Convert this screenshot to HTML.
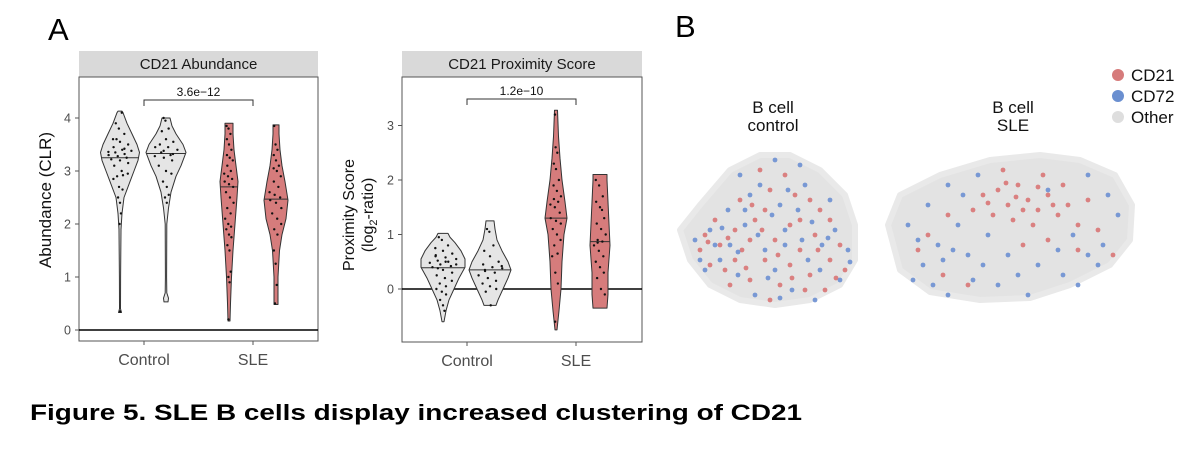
<!DOCTYPE html>
<html><head><meta charset="utf-8"><style>
html,body{margin:0;padding:0;background:#fff;}
svg{display:block;font-family:"Liberation Sans",Arial,sans-serif;}
</style></head><body>
<svg id="fig" width="1200" height="454" viewBox="0 0 1200 454" xmlns="http://www.w3.org/2000/svg">
<text x="48" y="40" font-size="31" fill="#000">A</text>
<text x="675" y="37" font-size="31" fill="#000">B</text>
<text x="30" y="420" font-size="22" font-weight="bold" textLength="772" lengthAdjust="spacingAndGlyphs" fill="#000">Figure 5. SLE B cells display increased clustering of CD21</text>
<g id="left"></g>
<g id="right"></g>
<g id="umap"></g>
</svg>
<script>
// ---- violin data ----
const groupLabels = ["Control", "SLE"];
const abundanceTicks = [0, 1, 2, 3, 4];
const proximityTicks = [0, 1, 2, 3];
const abundanceP = "3.6e\u221212";
const proximityP = "1.2e\u221210";
const L_c1_y = [0.33,0.4,1,1.9,2.2,2.5,2.8,3.0,3.2,3.35,3.5,3.7,3.9,4.1,4.13];
const L_c1_w = [1.5,0.5,0.6,1,2,4,10,14,18,19.5,17,12,7,3,2];
const L_c2_y = [0.53,0.6,0.7,1,2.0,2.3,2.6,2.9,3.1,3.35,3.5,3.7,3.85,4.0];
const L_c2_w = [2,2.5,0.8,0.6,0.8,2.5,5,10,15,20,17,10,6,4];
const L_s1_y = [0.17,0.5,1,1.5,2,2.5,2.8,3.1,3.4,3.7,3.9];
const L_s1_w = [1,1.5,2.5,4,6,8,9,7,5,4,4];
const L_s2_y = [0.48,1.0,1.5,1.8,2.1,2.45,2.8,3.1,3.4,3.7,3.87];
const L_s2_w = [2,2,3.5,6,10,12,9,6,4,3,3];
const R_c1_y = [-0.6,-0.4,-0.2,0,0.2,0.4,0.55,0.7,0.85,0.95,1.02];
const R_c1_w = [1,3,6,11,16,22,22,18,12,7,5];
const R_c2_y = [-0.3,-0.2,0,0.2,0.35,0.5,0.7,0.9,1.1,1.25];
const R_c2_w = [6,8,13,18,21,18,12,7,5,4];
const R_s1_y = [-0.75,-0.4,0,0.5,1.0,1.3,1.6,2.0,2.4,2.8,3.28];
const R_s1_w = [1,3,5,6,8,11,9,6,4,2.5,1.5];
const R_s2_y = [-0.35,-0.1,0.3,0.8,1.2,1.6,2.0,2.1];
const R_s2_w = [7,8,8,10,9,8,7,7];
const L_medians = [3.25,3.33,2.7,2.47];
const R_medians = [0.39,0.35,1.3,0.87];
const L_c1 = [3.9,3.8,3.7,3.6,3.55,3.5,3.45,3.4,3.38,3.35,3.32,3.3,3.28,3.25,3.22,3.2,3.15,3.1,3.0,2.95,2.9,2.92,2.85,2.7,2.65,2.5,2.4,2.2,2.0,0.35,4.1,3.6,3.42,3.36];
const L_c2 = [4.0,3.95,3.8,3.75,3.6,3.55,3.5,3.45,3.4,3.35,3.3,3.28,3.25,3.2,3.1,3.0,2.95,2.8,2.7,2.55,2.5,2.4,3.45,3.38,3.32];
const L_s1 = [3.85,3.8,3.7,3.6,3.5,3.4,3.3,3.25,3.2,3.1,3.0,2.95,2.9,2.85,2.8,2.75,2.7,2.6,2.5,2.4,2.3,2.2,2.1,2.0,1.95,1.9,1.8,1.75,1.6,1.5,1.1,1.0,0.9,0.2];
const L_s2 = [3.85,3.5,3.4,3.3,3.2,3.1,3.05,3.0,2.9,2.8,2.7,2.6,2.55,2.5,2.45,2.4,2.3,2.2,2.1,2.0,1.9,1.8,1.5,1.25,0.85,0.5];
const R_c1 = [0.95,0.9,0.8,0.75,0.7,0.65,0.6,0.58,0.55,0.52,0.5,0.48,0.45,0.42,0.4,0.35,0.3,0.25,0.2,0.15,0.1,0.05,0.0,-0.05,-0.1,-0.2,-0.3,-0.4,0.62,0.5,0.45,0.38];
const R_c2 = [1.1,1.05,0.8,0.7,0.6,0.5,0.45,0.4,0.38,0.35,0.3,0.25,0.2,0.15,0.1,0.05,0.0,-0.05,-0.3,0.42,0.33];
const R_s1 = [3.2,2.6,2.5,2.3,2.2,2.0,1.9,1.8,1.7,1.65,1.6,1.55,1.5,1.4,1.3,1.25,1.2,1.1,1.0,0.9,0.8,0.65,0.6,0.3,0.1,-0.6];
const R_s2 = [2.0,1.9,1.7,1.6,1.5,1.3,1.2,1.1,1.0,0.9,0.87,0.8,0.7,0.6,0.5,0.4,0.3,0.2,0.0,-0.1,0.85,1.45];
// ---- UMAP data (embedding units) ----
const ctrlOutline = [[0,80],[20,55],[50,20],[80,5],[110,5],[140,20],[165,45],[175,75],[175,110],[160,135],[130,150],[95,155],[60,150],[30,135],[10,110]];
const sleOutline = [[0,70],[12,40],[52,20],[102,5],[152,0],[192,5],[227,20],[244,50],[242,85],[222,110],[182,130],[142,143],[92,145],[42,137],[12,115]];
const ctrlCD21 = [[25,85],[40,95],[55,80],[62,100],[75,70],[85,110],[95,90],[110,75],[120,100],[135,85],[150,110],[160,95],[45,120],[70,130],[100,135],[130,125],[60,50],[90,40],[115,45],[140,60],[80,20],[105,25],[35,70],[150,70],[20,100],[55,110],[125,140],[90,150],[165,120],[145,140],[70,90],[30,115],[110,115],[85,60],[48,88],[66,118],[82,80],[98,105],[112,128],[138,100],[156,128],[120,70],[72,55],[50,135],[28,92],[130,50]];
const ctrlCD72 = [[15,90],[30,80],[50,95],[65,75],[78,85],[92,65],[105,95],[118,60],[128,110],[142,95],[155,80],[168,100],[40,110],[58,125],[95,120],[112,140],[135,150],[75,145],[48,60],[70,45],[100,55],[125,35],[150,50],[60,25],[95,10],[120,15],[20,110],[85,100],[160,130],[140,120],[35,95],[105,80],[65,60],[42,78],[58,102],[88,128],[122,90],[148,88],[132,72],[80,35],[108,40],[25,120],[170,112],[100,148]];
const sleCD21 = [[95,40],[110,35],[120,50],[130,30],[140,45],[150,55],[160,40],[170,60],[180,50],[190,70],[200,45],[145,70],[125,65],[135,90],[105,60],[85,55],[60,60],[40,80],[55,120],[80,130],[155,20],[175,30],[210,75],[225,100],[115,15],[160,85],[190,95],[30,95],[118,28],[135,55],[150,32],[165,50],[100,48],[128,42]];
const sleCD72 = [[20,70],[35,110],[50,90],[45,130],[70,70],[80,100],[95,110],[60,140],[110,130],[130,120],[150,110],[175,120],[200,100],[215,90],[190,130],[90,20],[60,30],[40,50],[200,20],[220,40],[170,95],[120,100],[140,140],[100,80],[230,60],[25,125],[75,40],[160,35],[30,85],[55,105],[85,125],[65,95],[185,80],[210,110]];
const legendLabels = ["CD21","CD72","Other"];

const NS = "http://www.w3.org/2000/svg";
function mk(parent, tag, attrs, text){
  const e = document.createElementNS(NS, tag);
  for (const k in attrs) e.setAttribute(k, attrs[k]);
  if (text !== undefined) e.textContent = text;
  parent.appendChild(e); return e;
}
const GRAY = "#e5e5e5", RED = "#d67c7c";

function panel(g, cfg){
  const {x0,x1,top,bottom,zeroY,unit,title,ticks,groupX,centers,profiles,obs,medians,pval,bracketY} = cfg;
  const yS = v => zeroY - v*unit;
  const strip = mk(g,"rect",{x:x0,y:top-26,width:x1-x0,height:26,fill:"#d9d9d9"});
  
  
  const st = mk(g,"text",{x:(x0+x1)/2,y:top-8,"font-size":15,"text-anchor":"middle",fill:"#1a1a1a"},title);
  
  
  const box = mk(g,"rect",{x:x0,y:top,width:x1-x0,height:bottom-top,fill:"none",stroke:"#555","stroke-width":1});
  
  
  ticks.forEach(t=>{
    const tk = mk(g,"line",{x1:x0-4,x2:x0,y1:yS(t),y2:yS(t),stroke:"#555"});
    
    
    const tl = mk(g,"text",{x:x0-8,y:yS(t)+4.5,"font-size":12.5,"text-anchor":"end",fill:"#4d4d4d"},String(t));
    
    
  });
  groupLabels.forEach((lab,i)=>{
    const tk = mk(g,"line",{x1:groupX[i],x2:groupX[i],y1:bottom,y2:bottom+4,stroke:"#555"});
    
    
    const tl = mk(g,"text",{x:groupX[i],y:bottom+24,"font-size":16,"text-anchor":"middle",fill:"#4d4d4d"},lab);
    
    
  });
  const zl = mk(g,"line",{x1:x0,x2:x1,y1:yS(0),y2:yS(0),stroke:"#000","stroke-width":1.6});
  
  
  profiles.forEach((p,i)=>{
    const c = centers[i], ys=p[0], ws=p[1];
    let d = "M"+(c+ws[0])+","+yS(ys[0]);
    for(let k=1;k<ys.length;k++) d+=" L"+(c+ws[k])+","+yS(ys[k]);
    for(let k=ys.length-1;k>=0;k--) d+=" L"+(c-ws[k])+","+yS(ys[k]);
    d+="Z";
    const v = mk(g,"path",{d:d,fill:i<2?GRAY:RED,stroke:"#333","stroke-width":1,"stroke-linejoin":"round"});
    
    
    const wAt = val => { for(let k=1;k<ys.length;k++){ if(val<=ys[k]){const f=(val-ys[k-1])/(ys[k]-ys[k-1]||1);return ws[k-1]+f*(ws[k]-ws[k-1]);} } return ws[ws.length-1]; };
    const mw = wAt(medians[i]);
    const ml = mk(g,"line",{x1:c-mw,x2:c+mw,y1:yS(medians[i]),y2:yS(medians[i]),stroke:"#333","stroke-width":1});
    
    
    obs[i].forEach((val,j)=>{
      const off = (((j*37)%11)-5)/5 * wAt(val)*0.6;
      const pt = mk(g,"circle",{cx:c+off,cy:yS(val),r:1.2,fill:"#111"});
      
      
    });
  });
  const br = mk(g,"path",{d:`M${groupX[0]},${bracketY+6} V${bracketY} H${groupX[1]} V${bracketY+6}`,fill:"none",stroke:"#333","stroke-width":1});
  
  
  const pt = mk(g,"text",{x:(groupX[0]+groupX[1])/2,y:bracketY-4,"font-size":12,"text-anchor":"middle",fill:"#111"},pval);
  
  
}

const left = document.getElementById("left");
panel(left,{x0:79,x1:318,top:77,bottom:341,zeroY:330,unit:53,title:"CD21 Abundance",ticks:abundanceTicks,
  groupX:[144,253],centers:[120,166,229,276],
  profiles:[[L_c1_y,L_c1_w],[L_c2_y,L_c2_w],[L_s1_y,L_s1_w],[L_s2_y,L_s2_w]],
  obs:[L_c1,L_c2,L_s1,L_s2],medians:L_medians,pval:abundanceP,bracketY:100});
const ya = mk(left,"text",{x:0,y:0,"font-size":17,"text-anchor":"middle",fill:"#111",transform:"translate(51,200) rotate(-90)"},"Abundance (CLR)");



const right = document.getElementById("right");
panel(right,{x0:402,x1:642,top:77,bottom:342,zeroY:289,unit:54.5,title:"CD21 Proximity Score",ticks:proximityTicks,
  groupX:[467,576],centers:[443,490,556,600],
  profiles:[[R_c1_y,R_c1_w],[R_c2_y,R_c2_w],[R_s1_y,R_s1_w],[R_s2_y,R_s2_w]],
  obs:[R_c1,R_c2,R_s1,R_s2],medians:R_medians,pval:proximityP,bracketY:99});
const yb1 = mk(right,"text",{x:0,y:0,"font-size":16,"text-anchor":"middle",fill:"#111",transform:"translate(354,215) rotate(-90)"},"Proximity Score");


const yb2 = mk(right,"text",{x:0,y:0,"font-size":16,"text-anchor":"middle",fill:"#111",transform:"translate(373,215) rotate(-90)"});


yb2.innerHTML = '(log<tspan font-size="11" dy="4">2</tspan><tspan dy="-4">-ratio)</tspan>';

const um = document.getElementById("umap");
function blob(ox, oy, outline, red, blue, name){
  const sx = v => ox + v, sy = v => oy + v;
  const g = mk(um,"g",{});
  
  
  const bg = mk(g,"polygon",{points:outline.map(p=>sx(p[0])+","+sy(p[1])).join(" "),fill:"#e3e3e3",stroke:"#e9e9e9","stroke-width":6,"stroke-linejoin":"round"});
  
  
  red.forEach(p=>{
    const c = mk(g,"circle",{cx:sx(p[0]),cy:sy(p[1]),r:2.4,fill:"#d87474","fill-opacity":0.9});
    
    
  });
  blue.forEach(p=>{
    const c = mk(g,"circle",{cx:sx(p[0]),cy:sy(p[1]),r:2.4,fill:"#6b8fd2","fill-opacity":0.9});
    
    
  });
}
blob(680,150,ctrlOutline,ctrlCD21,ctrlCD72,'umap-control');
blob(888,155,sleOutline,sleCD21,sleCD72,'umap-sle');
[["B cell","control",773],["B cell","SLE",1013]].forEach(t=>{
  const a = mk(um,"text",{x:t[2],y:113,"font-size":17,"text-anchor":"middle",fill:"#111"},t[0]);
  
  
  const b = mk(um,"text",{x:t[2],y:131,"font-size":17,"text-anchor":"middle",fill:"#111"},t[1]);
  
  
});
const legCols = ["#d67b7b","#6a8fd0","#dedede"];
legendLabels.forEach((l,i)=>{
  const c = mk(um,"circle",{cx:1118,cy:75+i*21,r:6,fill:legCols[i]});
  
  
  const t = mk(um,"text",{x:1131,y:81+i*21,"font-size":17,fill:"#111"},l);
  
  
});
</script>
</body></html>
